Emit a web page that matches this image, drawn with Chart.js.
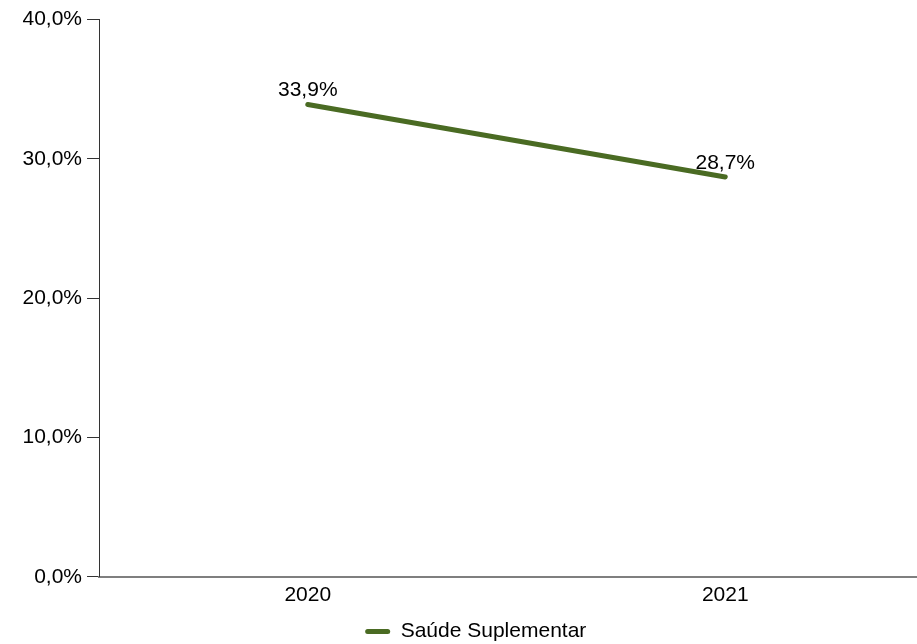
<!DOCTYPE html>
<html>
<head>
<meta charset="utf-8">
<script src="https://cdn.jsdelivr.net/npm/chart.js@4/dist/chart.umd.min.js"></script>
<style>
  html, body { margin: 0; padding: 0; background: #fff; overflow: hidden; }
  #wrap { position: relative; width: 934px; height: 652px; }
</style>
</head>
<body>
<div id="wrap"><canvas id="chart"></canvas></div>
<script>
/* ── DATA ─────────────────────────────────────────────── */
const years = ['2020', '2021'];
const saudeSuplementar = [33.9, 28.7];
const yTicks = [0, 10, 20, 30, 40];

const LINE_COLOR = '#4a6b23';
const FONT = "'Liberation Sans', Arial, sans-serif";

const fmt = v => v.toFixed(1).replace('.', ',') + '%';

/* ── value labels above points ─────────────────────────── */
const pointLabels = {
    id: 'pointLabels',
    afterDatasetsDraw(chart) {
        const ctx = chart.ctx;
        const meta = chart.getDatasetMeta(0);
        ctx.save();
        ctx.font = '21px ' + FONT;
        ctx.fillStyle = '#000';
        ctx.textAlign = 'center';
        ctx.textBaseline = 'middle';
        meta.data.forEach((pt, i) => {
            ctx.fillText(fmt(saudeSuplementar[i]), pt.x, pt.y - 14);
        });
        ctx.restore();
    }
};

new Chart(document.getElementById('chart').getContext('2d'), {
    type: 'line',
    data: {
        labels: years,
        datasets: [{
            label: 'Saúde Suplementar',
            data: saudeSuplementar,
            borderColor: LINE_COLOR,
            backgroundColor: LINE_COLOR,
            borderWidth: 5,
            borderCapStyle: 'round',
            pointRadius: 0,
            tension: 0
        }]
    },
    options: {
        responsive: true,
        maintainAspectRatio: false,
        animation: false,
        layout: { padding: { left: 17.5, top: 19.5, right: 0, bottom: 0 } },
        plugins: {
            legend: {
                position: 'bottom',
                labels: {
                    color: '#000',
                    font: { family: FONT, size: 21 },
                    boxWidth: 25,
                    boxHeight: 5,
                    padding: 0,
                    generateLabels: chart => [{
                        text: 'Saúde Suplementar',
                        fillStyle: LINE_COLOR,
                        strokeStyle: LINE_COLOR,
                        lineWidth: 0,
                        borderRadius: 2.5,
                        datasetIndex: 0
                    }]
                }
            },
            tooltip: { enabled: false }
        },
        scales: {
            x: {
                offset: true,
                afterFit: axis => { axis.height += 7; },
                grid: { display: false, drawTicks: false },
                border: { display: true, color: '#7f7f7f', width: 2 },
                ticks: { color: '#000', font: { family: FONT, size: 21 }, padding: 6 }
            },
            y: {
                min: 0,
                max: 40,
                afterBuildTicks: axis => { axis.ticks = yTicks.map(v => ({ value: v })); },
                grid: { drawOnChartArea: false, drawTicks: true, tickLength: 12, color: '#333' },
                border: { display: true, color: '#333', width: 1 },
                ticks: { color: '#000', font: { family: FONT, size: 21 }, padding: 5, callback: v => fmt(v) }
            }
        }
    },
    plugins: [pointLabels]
});
</script>
</body>
</html>
